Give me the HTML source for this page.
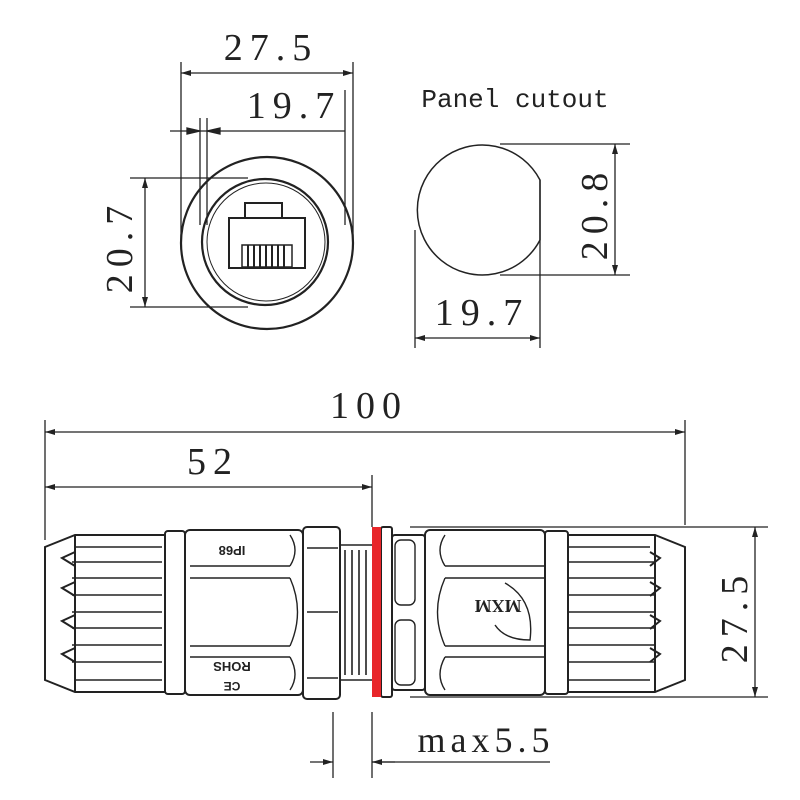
<!DOCTYPE html>
<html><head><meta charset="utf-8"><style>body{margin:0;background:#fff}svg{display:block}</style></head><body>
<svg width="800" height="800" viewBox="0 0 800 800" xmlns="http://www.w3.org/2000/svg">
<defs>
<marker id="a" viewBox="0 0 10 6" refX="10" refY="3" markerWidth="10" markerHeight="6" orient="auto-start-reverse" markerUnits="userSpaceOnUse"><path d="M0,0L10,3L0,6z" fill="#222"/></marker>
</defs>
<g fill="none" stroke="#222" stroke-width="1.3">
<line x1="181" y1="62" x2="181" y2="243"/><line x1="353" y1="62" x2="353" y2="243"/>
<line x1="181" y1="73" x2="353" y2="73" marker-start="url(#a)" marker-end="url(#a)"/>
<line x1="200" y1="118" x2="200" y2="225"/><line x1="207" y1="118" x2="207" y2="225"/><line x1="345" y1="90" x2="345" y2="225"/>
<line x1="170" y1="131" x2="345" y2="131"/>
<path d="M187,128L200,131L187,134z M220,128L207,131L220,134z" fill="#222"/>
<line x1="130" y1="178" x2="248" y2="178"/><line x1="130" y1="307" x2="248" y2="307"/>
<line x1="145" y1="178" x2="145" y2="307" marker-start="url(#a)" marker-end="url(#a)"/>
<circle cx="267" cy="243" r="86" stroke-width="2.2"/>
<circle cx="265" cy="242" r="63" stroke-width="2.2"/>
<circle cx="266" cy="242" r="59" stroke-width="1"/>
<rect x="229" y="218" width="76" height="50" stroke-width="2"/>
<path d="M245,218V203H282V218" stroke-width="2"/>
<rect x="242" y="245" width="50" height="22" stroke-width="1.5"/>
<path d="M248,245V267M254,245V267M260,245V267M266,245V267M272,245V267M278,245V267M284,245V267" stroke-width="2"/>
<path d="M540,180A65,65 0 1 0 540,240Z" stroke-width="1.5"/>
<line x1="500" y1="144" x2="630" y2="144"/><line x1="500" y1="275" x2="630" y2="275"/>
<line x1="615" y1="144" x2="615" y2="275" marker-start="url(#a)" marker-end="url(#a)"/>
<line x1="415" y1="230" x2="415" y2="348"/><line x1="540" y1="180" x2="540" y2="348"/>
<line x1="415" y1="338" x2="540" y2="338" marker-start="url(#a)" marker-end="url(#a)"/>
<line x1="45" y1="420" x2="45" y2="540"/><line x1="685" y1="420" x2="685" y2="525"/>
<line x1="45" y1="432" x2="685" y2="432" marker-start="url(#a)" marker-end="url(#a)"/>
<line x1="372" y1="475" x2="372" y2="527"/>
<line x1="45" y1="487" x2="372" y2="487" marker-start="url(#a)" marker-end="url(#a)"/>
<line x1="410" y1="527" x2="768" y2="527"/><line x1="410" y1="697" x2="768" y2="697"/>
<line x1="755" y1="527" x2="755" y2="697" marker-start="url(#a)" marker-end="url(#a)"/>
<line x1="333" y1="712" x2="333" y2="778"/><line x1="372" y1="712" x2="372" y2="778"/>
<line x1="310" y1="762" x2="333" y2="762" marker-end="url(#a)"/>
<line x1="395" y1="762" x2="372" y2="762" marker-end="url(#a)"/>
<line x1="372" y1="762" x2="550" y2="762"/>
<g stroke-width="2">
<path d="M75,535H165V692H75L45,680V547Z"/>
<path d="M75,535V692"/>
<path d="M75,547H162M72,562H162M72,578H162M72,595H162M72,612H162M72,628H162M72,645H162M72,662H162M75,680H162" stroke-width="1.6"/>
<path d="M75,552L62,558L75,566M75,582L62,588L75,596M75,615L62,621L75,629M75,648L62,654L75,662" />
<rect x="165" y="531" width="20" height="163" rx="3"/>
<rect x="185" y="530" width="118" height="165" rx="5"/>
<path d="M190,566H290M190,578H290M190,646H290M190,657H290" stroke-width="1.4"/>
<path d="M290,535Q300,550 290,566M290,578Q305,612 290,646M290,657Q300,675 290,690" stroke-width="1.4"/>
<rect x="303" y="527" width="37" height="172" rx="4"/>
<path d="M307,548H338M307,612H338M307,678H338" stroke-width="1.4"/>
<path d="M340,545H372M340,680H372M345,550V675M352,550V675M359,550V675M366,550V675" stroke-width="1.6"/>
</g>
<g stroke-width="2">
<rect x="381" y="527" width="11" height="170" rx="2"/>
<rect x="392" y="535" width="33" height="155" rx="3"/>
<rect x="395" y="540" width="20" height="65" rx="6" stroke-width="1.4"/>
<rect x="395" y="620" width="20" height="65" rx="6" stroke-width="1.4"/>
<rect x="425" y="530" width="120" height="165" rx="5"/>
<path d="M445,566H545M445,578H545M445,646H545M445,657H545" stroke-width="1.4"/>
<path d="M445,535Q435,550 445,566M445,578Q430,612 445,646M445,657Q435,675 445,690" stroke-width="1.4"/>
<rect x="545" y="531" width="23" height="163" rx="3"/>
<path d="M568,535H655L685,547V680L655,692H568Z"/>
<path d="M655,535V692"/>
<path d="M568,547H650M568,562H655M568,578H655M568,595H655M568,612H655M568,628H655M568,645H655M568,662H655M568,680H650" stroke-width="1.6"/>
<path d="M650,552L660,558L650,566M650,582L660,588L650,596M650,615L660,621L650,629M650,648L660,654L650,662"/>
<path d="M505,583Q535,600 530,640Q505,640 495,625" stroke-width="1.4"/>
</g>
</g>
<rect x="372" y="527" width="9" height="170" fill="#e8262a"/>
<g font-family="Liberation Serif, serif" fill="#222" text-anchor="middle" letter-spacing="7">
<text x="271" y="60" font-size="38">27.5</text>
<text x="294" y="118" font-size="38">19.7</text>
<text x="482" y="325" font-size="38">19.7</text>
<text x="369" y="418" font-size="38">100</text>
<text x="213" y="474" font-size="38">52</text>
<text transform="translate(132,246) rotate(-90)" font-size="38">20.7</text>
<text transform="translate(607,213) rotate(-90)" font-size="38">20.8</text>
<text transform="translate(747,616) rotate(-90)" font-size="38">27.5</text>
<text x="486" y="752" font-size="36" letter-spacing="5">max5.5</text>
</g>
<g font-family="Liberation Sans, sans-serif" fill="#222" text-anchor="middle" font-weight="bold">
<text x="232" y="556" font-size="13" transform="rotate(180 232 551)">IP68</text>
<text x="232" y="672" font-size="13" transform="rotate(180 232 667)">ROHS</text>
<text x="232" y="690" font-size="12" transform="rotate(180 232 686)">CE</text>
<text x="498" y="612" font-size="18" font-family="Liberation Serif, serif" transform="rotate(180 498 606)">MXM</text>
</g>
<text x="515" y="107" font-family="Liberation Mono, monospace" font-size="26" fill="#222" text-anchor="middle">Panel cutout</text>
</svg>
</body></html>
